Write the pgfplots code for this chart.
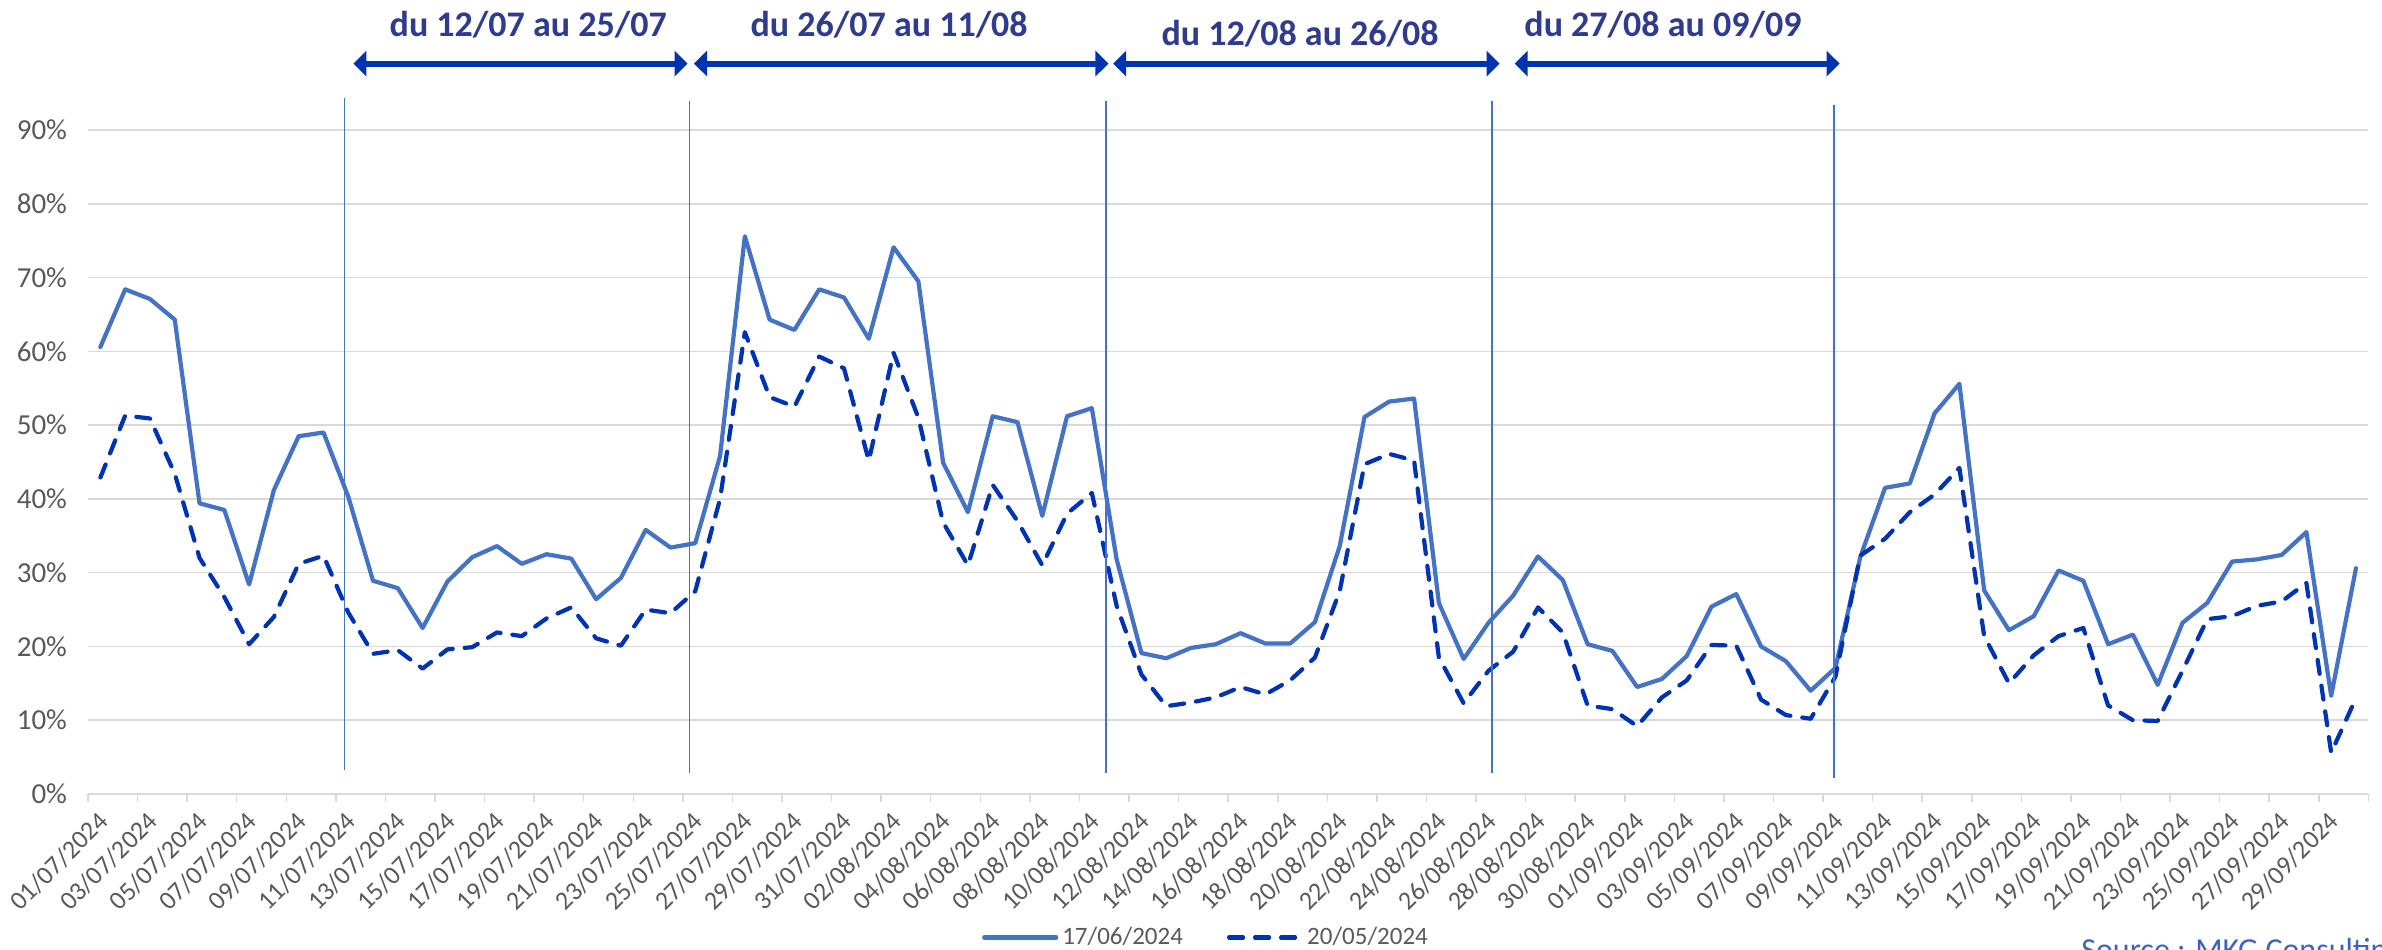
\documentclass[border=0pt]{standalone}
\usepackage{pgfplots}
\pgfplotsset{compat=1.18}
\usepackage{pgfplotstable}
\usepackage{fontspec}
\setmainfont{Carlito}
\usetikzlibrary{arrows.meta}
\definecolor{solidblue}{HTML}{4472C4}
\definecolor{dashblue}{HTML}{0032B4}
\definecolor{arrblue}{HTML}{0033B0}
\definecolor{navy}{HTML}{2E3B8E}
\definecolor{gridgrey}{HTML}{D9D9D9}
\definecolor{labgrey}{HTML}{595959}
\definecolor{srcblue}{HTML}{3A62C8}

\pgfplotstableread{
x s d
0 60.6 42.9
1 68.4 51.3
2 67.1 50.9
3 64.3 43.4
4 39.4 32.0
5 38.5 26.7
6 28.4 20.3
7 41.2 24.0
8 48.5 31.2
9 49.0 32.3
10 40.3 24.6
11 28.9 19.0
12 27.9 19.5
13 22.5 17.0
14 28.8 19.6
15 32.1 19.9
16 33.6 21.9
17 31.2 21.4
18 32.5 23.8
19 31.9 25.3
20 26.4 21.1
21 29.3 20.1
22 35.8 25.0
23 33.4 24.5
24 34.0 27.5
25 45.8 40.0
26 75.6 62.6
27 64.3 53.8
28 62.9 52.5
29 68.4 59.3
30 67.3 57.7
31 61.7 45.2
32 74.1 59.8
33 69.5 51.0
34 44.9 36.8
35 38.2 31.0
36 51.2 41.9
37 50.4 37.0
38 37.7 31.0
39 51.2 38.0
40 52.3 40.8
41 31.8 25.5
42 19.1 16.2
43 18.4 11.9
44 19.8 12.4
45 20.3 13.1
46 21.8 14.5
47 20.4 13.5
48 20.4 15.4
49 23.3 18.5
50 33.6 27.5
51 51.1 44.7
52 53.2 46.1
53 53.6 45.2
54 25.9 18.5
55 18.3 12.3
56 23.2 16.7
57 26.9 19.3
58 32.2 25.3
59 29.0 21.9
60 20.3 12.0
61 19.4 11.5
62 14.5 9.2
63 15.6 13.1
64 18.7 15.4
65 25.4 20.2
66 27.1 20.1
67 20.0 12.8
68 18.0 10.7
69 14.0 10.2
70 17.1 15.9
71 32.1 32.3
72 41.5 34.6
73 42.1 38.2
74 51.6 40.6
75 55.6 44.2
76 27.6 21.4
77 22.2 15.0
78 24.1 18.8
79 30.3 21.4
80 28.9 22.5
81 20.3 12.0
82 21.6 10.0
83 14.8 9.9
84 23.2 16.7
85 25.9 23.7
86 31.5 24.1
87 31.8 25.5
88 32.4 26.1
89 35.5 28.6
90 13.3 5.6
91 30.6 13.0
}\data

\begin{document}
\begin{tikzpicture}
\useasboundingbox (0,0) rectangle (1191pt,474.5pt);
\begin{axis}[
  at={(44pt,77.5pt)}, anchor=south west,
  scale only axis, width=1140.3pt, height=332pt,
  xmin=-0.5, xmax=91.5, ymin=0, ymax=90,
  clip=false,
  axis x line*=bottom, axis y line*=left,
  y axis line style={draw=none},
  x axis line style={color=gridgrey, line width=0.75pt},
  ymajorgrids, grid style={color=gridgrey, line width=0.75pt},
  ytick={0,10,...,90},
  yticklabel={\pgfmathprintnumber{\tick}\%},
  /pgf/number format/assume math mode=true,
  ytick style={draw=none},
  yticklabel style={font=\fontsize{14.5}{14.5}\selectfont, color=labgrey, anchor=east, xshift=-7pt},
  xtick={0,2,...,90},
  xticklabels={01/07/2024,03/07/2024,05/07/2024,07/07/2024,09/07/2024,11/07/2024,13/07/2024,15/07/2024,17/07/2024,19/07/2024,21/07/2024,23/07/2024,25/07/2024,27/07/2024,29/07/2024,31/07/2024,02/08/2024,04/08/2024,06/08/2024,08/08/2024,10/08/2024,12/08/2024,14/08/2024,16/08/2024,18/08/2024,20/08/2024,22/08/2024,24/08/2024,26/08/2024,28/08/2024,30/08/2024,01/09/2024,03/09/2024,05/09/2024,07/09/2024,09/09/2024,11/09/2024,13/09/2024,15/09/2024,17/09/2024,19/09/2024,21/09/2024,23/09/2024,25/09/2024,27/09/2024,29/09/2024},
  xtick style={draw=none},
  xticklabel style={font=\fontsize{13}{13}\selectfont, color=labgrey, xshift=4pt, yshift=-9pt, rotate=45, anchor=east},
  extra x ticks={-0.5,1.5,...,91.5},
  extra x tick labels={},
  extra x tick style={xtick align=outside, major tick length=4pt, xtick style={draw=gridgrey, line width=0.75pt}},
  legend columns=2,
  legend style={at={(0.4907,-0.216)}, anchor=center, draw=none, fill=none,
    font=\fontsize{12.5}{12.5}\selectfont, text=labgrey,
    /tikz/every even column/.append style={column sep=20pt}},
  legend image code/.code={\draw[#1] (0pt,0pt) -- (36pt,0pt);},
]
\addplot[solidblue, line width=2.1pt, line join=round, line cap=round] table[x=x, y=s] {\data};
\addlegendentry{17/06/2024}
\addplot[dashblue, line width=2.1pt, line join=round, line cap=round, dash pattern=on 7pt off 6pt] table[x=x, y=d] {\data};
\addlegendentry{20/05/2024}

% period separators
\draw[solidblue, line width=0.6pt] (axis cs:9.86,3.2) -- (axis cs:9.86,94.3);
\draw[solidblue, line width=0.6pt] (axis cs:23.76,2.85) -- (axis cs:23.76,94.0);
\draw[solidblue, line width=0.6pt] (axis cs:40.57,2.85) -- (axis cs:40.57,94.0);
\draw[solidblue, line width=0.6pt] (axis cs:56.14,2.85) -- (axis cs:56.14,94.0);
\draw[solidblue, line width=0.6pt] (axis cs:69.94,2.2) -- (axis cs:69.94,93.4);

% arrows
\tikzset{parr/.style={arrblue, line width=3pt, {Triangle[length=6.5pt,width=12.5pt]}-{Triangle[length=6.5pt,width=12.5pt]}}}
\draw[parr] (axis cs:10.21,99) -- (axis cs:23.69,99);
\draw[parr] (axis cs:23.95,99) -- (axis cs:40.67,99);
\draw[parr] (axis cs:40.86,99) -- (axis cs:56.45,99);
\draw[parr] (axis cs:57.06,99) -- (axis cs:70.17,99);

% labels
\tikzset{plab/.style={font=\bfseries\fontsize{18}{18}\selectfont, text=navy, anchor=base, inner sep=0pt}}
\node[plab] at (axis cs:17.26,102.74) {du 12/07 au 25/07};
\node[plab] at (axis cs:31.82,102.74) {du 26/07 au 11/08};
\node[plab] at (axis cs:48.40,101.52) {du 12/08 au 26/08};
\node[plab] at (axis cs:63.04,102.74) {du 27/08 au 09/09};
\end{axis}
\node[anchor=base west, inner sep=0pt, font=\fontsize{16}{16}\selectfont, text=srcblue] at (1040.5pt,-5.5pt) {Source : MKG Consulting};
\end{tikzpicture}
\end{document}
